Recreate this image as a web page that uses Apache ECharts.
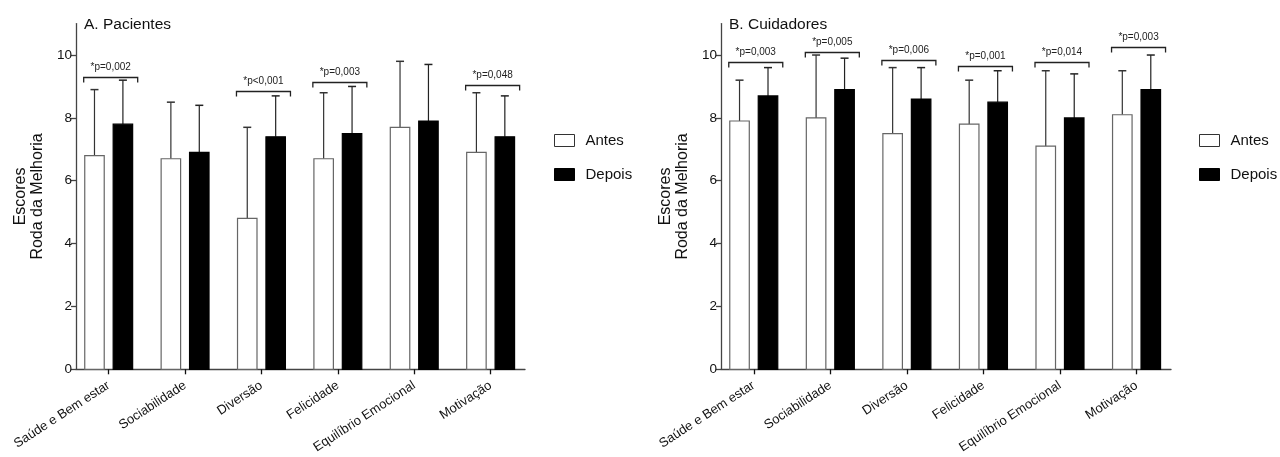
<!DOCTYPE html>
<html><head><meta charset="utf-8">
<script src="https://cdn.jsdelivr.net/npm/echarts@6/dist/echarts.min.js"></script>
<style>html,body{margin:0;padding:0;background:#fff}#c{width:1280px;height:457px}</style>
</head><body><div id="c"></div>
<script>
const categories = ['Saúde e Bem estar','Sociabilidade','Diversão','Felicidade','Equilíbrio Emocional','Motivação'];
const yTicks = [0,2,4,6,8,10];

const pacAntes = [6.8,6.7,4.8,6.7,7.7,6.9];
const pacAntesSD = [2.1,1.8,2.9,2.1,2.1,1.9];
const pacDepois = [7.8,6.9,7.4,7.5,7.9,7.4];
const pacDepoisSD = [1.4,1.5,1.3,1.5,1.8,1.3];
const pacBracketCats = [0,2,3,5];
const pacBracketY = [9.3,8.85,9.15,9.05];
const pacBracketLabels = ['*p=0,002','*p<0,001','*p=0,003','*p=0,048'];

const cuiAntes = [7.9,8.0,7.5,7.8,7.1,8.1];
const cuiAntesSD = [1.3,2.0,2.1,1.4,2.4,1.4];
const cuiDepois = [8.7,8.9,8.6,8.5,8.0,8.9];
const cuiDepoisSD = [0.9,1.0,1.0,1.0,1.4,1.1];
const cuiBracketCats = [0,1,2,3,4,5];
const cuiBracketY = [9.77,10.11,9.84,9.66,9.77,10.26];
const cuiBracketLabels = ['*p=0,003','*p=0,005','*p=0,006','*p=0,001','*p=0,014','*p=0,003'];

const FONT = 'Liberation Sans, Arial, sans-serif';
const AXIS = '#444';

function barRender(offsetUnits, fill, stroke, errColor) {
  return function (params, api) {
    const i = api.value(0), v = api.value(1), sd = api.value(2);
    const unit = api.size([1, 0])[0];
    const c = api.coord([i, v]);
    const base = api.coord([i, 0]);
    const top = api.coord([i, v + sd]);
    const w = unit * 0.255;
    const cx = c[0] + offsetUnits * unit;
    const cap = 4;
    return {
      type: 'group',
      children: [
        { type: 'line', shape: { x1: cx, y1: c[1], x2: cx, y2: top[1] }, style: { stroke: errColor, lineWidth: 1.2 } },
        { type: 'line', shape: { x1: cx - cap, y1: top[1], x2: cx + cap, y2: top[1] }, style: { stroke: errColor, lineWidth: 1.5 } },
        { type: 'rect', shape: { x: cx - w / 2, y: c[1], width: w, height: base[1] - c[1] }, style: { fill: fill, stroke: stroke, lineWidth: 1.2 } }
      ]
    };
  };
}

function bracketRender(params, api) {
  const i = api.value(0), y = api.value(1);
  const p = api.coord([i, y]);
  const x1 = p[0] - 25, x2 = p[0] + 29, yy = Math.round(p[1]) + 0.5;
  return {
    type: 'group',
    children: [
      { type: 'polyline', shape: { points: [[x1, yy + 5], [x1, yy], [x2, yy], [x2, yy + 5]] }, style: { stroke: '#222', lineWidth: 1.3, fill: null } },
      { type: 'text', style: { text: api.value(2), x: p[0] + 2, y: yy - 5, align: 'center', verticalAlign: 'bottom', fill: '#222', font: '10px ' + FONT } }
    ]
  };
}

function mk(arr, sd) { return arr.map((v, i) => [i, v, sd[i]]); }
function mkB(cats, ys, labels) { return cats.map((c, k) => [c, ys[k], labels[k]]); }

const panels = [
  { left: 76, right: 755, title: 'A. Pacientes', titleLeft: 84, legendLeft: 554,
    a: mk(pacAntes, pacAntesSD), d: mk(pacDepois, pacDepoisSD), b: mkB(pacBracketCats, pacBracketY, pacBracketLabels) },
  { left: 721, right: 109, title: 'B. Cuidadores', titleLeft: 729, legendLeft: 1199,
    a: mk(cuiAntes, cuiAntesSD), d: mk(cuiDepois, cuiDepoisSD), b: mkB(cuiBracketCats, cuiBracketY, cuiBracketLabels) }
];

const option = {
  animation: false,
  backgroundColor: '#fff',
  title: panels.map(p => ({ text: p.title, left: p.titleLeft, top: 17, padding: 0,
    textStyle: { fontFamily: FONT, fontSize: 15.5, fontWeight: 'normal', color: '#111' } })),
  legend: panels.map(p => ({
    orient: 'vertical', left: p.legendLeft, top: 133, itemWidth: 20, itemHeight: 12, itemGap: 19, padding: 0,
    icon: 'rect', selectedMode: false,
    textStyle: { fontFamily: FONT, fontSize: 15, color: '#111', padding: [0, 0, 0, 6] },
    data: [
      { name: 'Antes', itemStyle: { color: '#fff', borderColor: '#333', borderWidth: 1 } },
      { name: 'Depois', itemStyle: { color: '#000', borderColor: '#000', borderWidth: 1 } }
    ]
  })),
  grid: panels.map(p => ({ left: p.left, right: p.right, top: 23.6, bottom: 87.7, containLabel: false })),
  xAxis: panels.map((p, gi) => ({
    type: 'value', gridIndex: gi, min: -0.428, max: 5.45,
    splitLine: { show: false },
    axisLine: { show: true, onZero: false, lineStyle: { color: AXIS, width: 1.3 } },
    axisTick: { show: true, length: 5, customValues: [0,1,2,3,4,5], lineStyle: { color: '#111', width: 1.3 } },
    axisLabel: { customValues: [0,1,2,3,4,5], rotate: 33, margin: 15, fontFamily: FONT, fontSize: 13, color: '#111',
      formatter: v => categories[Math.round(v)] }
  })),
  yAxis: panels.map((p, gi) => ({
    type: 'value', gridIndex: gi, min: 0, max: 11,
    name: 'Escores\nRoda da Melhoria', nameLocation: 'middle', nameGap: 30, nameRotate: 90,
    nameTextStyle: { fontFamily: FONT, fontSize: 16, color: '#111', lineHeight: 17 },
    splitLine: { show: false },
    axisLine: { show: true, onZero: false, lineStyle: { color: AXIS, width: 1.3 } },
    axisTick: { show: true, length: 5, customValues: yTicks, lineStyle: { color: AXIS, width: 1.3 } },
    axisLabel: { customValues: yTicks, margin: 4, fontFamily: FONT, fontSize: 13.5, color: '#111' }
  })),
  series: panels.flatMap((p, gi) => [
    { type: 'custom', name: 'Antes', xAxisIndex: gi, yAxisIndex: gi, data: p.a, encode: { x: 0, y: 1 },
      itemStyle: { color: '#fff', borderColor: '#333' }, renderItem: barRender(-0.186, '#fff', '#666', '#333') },
    { type: 'custom', name: 'Depois', xAxisIndex: gi, yAxisIndex: gi, data: p.d, encode: { x: 0, y: 1 },
      itemStyle: { color: '#000' }, renderItem: barRender(0.186, '#000', '#000', '#222') },
    { type: 'custom', name: 'brk' + gi, xAxisIndex: gi, yAxisIndex: gi, data: p.b, encode: { x: 0, y: 1 },
      renderItem: bracketRender, clip: false, z: 5 }
  ])
};

const chart = echarts.init(document.getElementById('c'), null, { renderer: 'canvas' });
chart.setOption(option);
</script>
</body></html>
